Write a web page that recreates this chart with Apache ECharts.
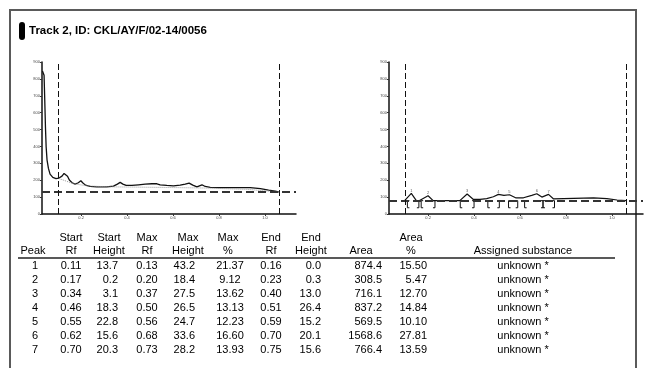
<!DOCTYPE html>
<html>
<head>
<meta charset="utf-8">
<script src="https://cdn.jsdelivr.net/npm/echarts@6/dist/echarts.min.js"></script>
<style>
  html, body { margin: 0; padding: 0; background: #fff; }
  #chart { width: 650px; height: 368px; }
</style>
</head>
<body>
<div id="chart"></div>
<script>
// raw densitogram (left plot), [Rf, AU]
const rawTrace = [
  [0.032, 847], [0.036, 855], [0.039, 821], [0.042, 673], [0.045, 516], [0.048, 398],
  [0.052, 319], [0.058, 270], [0.065, 236], [0.077, 217], [0.091, 209], [0.104, 213],
  [0.117, 224], [0.126, 240], [0.133, 242], [0.141, 224], [0.149, 201], [0.161, 185],
  [0.174, 177], [0.188, 185], [0.199, 197], [0.207, 185], [0.219, 171], [0.239, 163],
  [0.268, 161], [0.312, 161], [0.341, 165], [0.358, 177], [0.370, 187], [0.382, 177],
  [0.396, 169], [0.421, 169], [0.450, 173], [0.479, 177], [0.508, 179], [0.530, 179],
  [0.544, 173], [0.573, 169], [0.602, 167], [0.631, 171], [0.653, 177], [0.670, 183],
  [0.686, 171], [0.704, 161], [0.726, 173], [0.740, 163], [0.762, 158], [0.805, 156],
  [0.878, 156], [0.936, 156], [0.980, 150], [1.016, 142], [1.045, 136], [1.064, 130]
];
// dotted peak baseline (left plot)
const rawBaseline = [
  [0.106, 209], [0.167, 179], [0.225, 167], [0.312, 161], [0.515, 158],
  [0.733, 154], [0.922, 146], [1.064, 130]
];
// baseline-corrected trace (right plot)
const corrTrace = [
  [0.098, 79], [0.127, 122], [0.149, 79], [0.161, 79], [0.200, 108], [0.222, 79],
  [0.338, 79], [0.370, 118], [0.396, 87], [0.426, 87], [0.455, 91], [0.484, 102],
  [0.506, 116], [0.530, 110], [0.554, 114], [0.583, 95], [0.615, 96], [0.651, 110],
  [0.673, 120], [0.695, 100], [0.724, 116], [0.746, 89], [0.833, 93], [0.920, 96],
  [0.978, 91], [1.022, 83], [1.061, 79]
];
const rawThreshold = 130;
const corrThreshold = 79;
const frontLines = [0.101, 1.065];
const xTicks = [0.2, 0.4, 0.6, 0.8, 1.0];

// peak table
const peakNo = ["1", "2", "3", "4", "5", "6", "7"];
const startRf = ["0.11", "0.17", "0.34", "0.46", "0.55", "0.62", "0.70"];
const startHeight = ["13.7", "0.2", "3.1", "18.3", "22.8", "15.6", "20.3"];
const maxRf = ["0.13", "0.20", "0.37", "0.50", "0.56", "0.68", "0.73"];
const maxHeight = ["43.2", "18.4", "27.5", "26.5", "24.7", "33.6", "28.2"];
const maxPct = ["21.37", "9.12", "13.62", "13.13", "12.23", "16.60", "13.93"];
const endRf = ["0.16", "0.23", "0.40", "0.51", "0.59", "0.70", "0.75"];
const endHeight = ["0.0", "0.3", "13.0", "26.4", "15.2", "20.1", "15.6"];
const area = ["874.4", "308.5", "716.1", "837.2", "569.5", "1568.6", "766.4"];
const areaPct = ["15.50", "5.47", "12.70", "14.84", "10.10", "27.81", "13.59"];
const substance = ["unknown *", "unknown *", "unknown *", "unknown *", "unknown *", "unknown *", "unknown *"];

const chart = echarts.init(document.getElementById("chart"), null, {renderer: "canvas"});

const tableFont = "11px 'Liberation Sans Narrow', 'Arial Narrow', sans-serif";
// header lines, header centre x, data x, data alignment
const columns = [
  {head: ["", "Peak"], hx: 33, vals: peakNo, dx: 35, align: "center"},
  {head: ["Start", "Rf"], hx: 71, vals: startRf, dx: 71, align: "center"},
  {head: ["Start", "Height"], hx: 109, vals: startHeight, dx: 118, align: "right"},
  {head: ["Max", "Rf"], hx: 147, vals: maxRf, dx: 147, align: "center"},
  {head: ["Max", "Height"], hx: 188, vals: maxHeight, dx: 195, align: "right"},
  {head: ["Max", "%"], hx: 228, vals: maxPct, dx: 230, align: "center"},
  {head: ["End", "Rf"], hx: 271, vals: endRf, dx: 271, align: "center"},
  {head: ["End", "Height"], hx: 311, vals: endHeight, dx: 321, align: "right"},
  {head: ["", "Area"], hx: 361, vals: area, dx: 382, align: "right"},
  {head: ["Area", "%"], hx: 411, vals: areaPct, dx: 427, align: "right"},
  {head: ["", "Assigned substance"], hx: 523, vals: substance, dx: 523, align: "center"}
];

const headY = [238, 251];
const rowY0 = 266, rowStep = 14;

const graphics = [
  {type: "rect", shape: {x: 10, y: 10, width: 626, height: 400}, style: {fill: "none", stroke: "#5a5a5a", lineWidth: 2}},
  {type: "rect", shape: {x: 19, y: 22, width: 6, height: 18, r: 3}, style: {fill: "#000"}},
  {type: "text", x: 29, y: 31, style: {text: "Track 2, ID: CKL/AY/F/02-14/0056", font: "bold 11.5px 'Liberation Sans', Arial, sans-serif", fill: "#000", verticalAlign: "middle"}},
  {type: "line", shape: {x1: 18, y1: 258, x2: 615, y2: 258}, style: {stroke: "#222", lineWidth: 1.5}}
];
columns.forEach(c => {
  c.head.forEach((h, i) => {
    if (h) graphics.push({type: "text", x: c.hx, y: headY[i], style: {text: h, font: tableFont, fill: "#000", align: "center", verticalAlign: "middle"}});
  });
  c.vals.forEach((v, r) => {
    graphics.push({type: "text", x: c.dx, y: rowY0 + r * rowStep, style: {text: v, font: tableFont, fill: "#000", align: c.align, verticalAlign: "middle"}});
  });
});

function xAxisFor(i) {
  return {
    type: "value", gridIndex: i, min: 0.03, max: 1.135,
    axisLine: {lineStyle: {color: "#111", width: 1.5}},
    axisTick: {show: true, customValues: xTicks, length: 2, lineStyle: {color: "#333"}},
    axisLabel: {customValues: xTicks, fontSize: 4, color: "#444", margin: 2, formatter: v => v.toFixed(1)},
    splitLine: {show: false}
  };
}
function yAxisFor(i) {
  return {
    type: "value", gridIndex: i, min: 0, max: 900, interval: 100,
    axisLine: {show: true, lineStyle: {color: "#111", width: 1.5}},
    axisTick: {show: true, length: 2, lineStyle: {color: "#333"}},
    axisLabel: {fontSize: 4, color: "#444", margin: 2},
    splitLine: {show: false}
  };
}
function guideLines(threshold) {
  return {
    symbol: "none", silent: true, label: {show: false},
    data: [
      {yAxis: threshold, lineStyle: {type: [8, 4], width: 2, color: "#333"}},
      {xAxis: frontLines[0], lineStyle: {type: [6, 3], width: 1, color: "#111"}},
      {xAxis: frontLines[1], lineStyle: {type: [6, 3], width: 1, color: "#111"}}
    ]
  };
}

// peak boundaries for brackets on the corrected plot
const bounds = [];
startRf.forEach((s, i) => {
  bounds.push([parseFloat(s), 1]);
  bounds.push([parseFloat(endRf[i]), -1]);
});
// peak number labels placed on the corrected trace nearest to max Rf
const peakLabels = maxRf.map((m, i) => {
  const rf = parseFloat(m);
  let best = corrTrace[0];
  corrTrace.forEach(p => { if (Math.abs(p[0] - rf) < Math.abs(best[0] - rf)) best = p; });
  return {value: [best[0], best[1]], name: peakNo[i]};
});

chart.setOption({
  animation: false,
  grid: [
    {left: 42, top: 62, width: 254, height: 152},
    {left: 389, top: 62, width: 254, height: 152}
  ],
  xAxis: [xAxisFor(0), xAxisFor(1)],
  yAxis: [yAxisFor(0), yAxisFor(1)],
  graphic: graphics,
  series: [
    {
      type: "line", xAxisIndex: 0, yAxisIndex: 0, data: rawTrace, showSymbol: false,
      lineStyle: {color: "#111", width: 1.3}, markLine: guideLines(rawThreshold)
    },
    {
      type: "line", xAxisIndex: 0, yAxisIndex: 0, data: rawBaseline, showSymbol: false,
      lineStyle: {color: "#999", width: 1, type: "dotted"}
    },
    {
      type: "line", xAxisIndex: 1, yAxisIndex: 1, data: corrTrace, showSymbol: false,
      lineStyle: {color: "#111", width: 1.2}, markLine: guideLines(corrThreshold)
    },
    {
      type: "custom", xAxisIndex: 1, yAxisIndex: 1, data: bounds,
      renderItem: (params, api) => {
        const top = api.coord([api.value(0), corrThreshold]);
        const bot = api.coord([api.value(0), 37]);
        const d = api.value(1) * 2;
        return {
          type: "polyline",
          shape: {points: [[top[0] + d, top[1]], [top[0], top[1]], [bot[0], bot[1]], [bot[0] + d, bot[1]]]},
          style: {stroke: "#111", lineWidth: 1, fill: "none"}
        };
      }
    },
    {
      type: "scatter", xAxisIndex: 1, yAxisIndex: 1, data: peakLabels, symbolSize: 0,
      label: {show: true, formatter: p => p.name, position: "top", distance: 1, fontSize: 4, color: "#333"}
    }
  ]
});
</script>
</body>
</html>
